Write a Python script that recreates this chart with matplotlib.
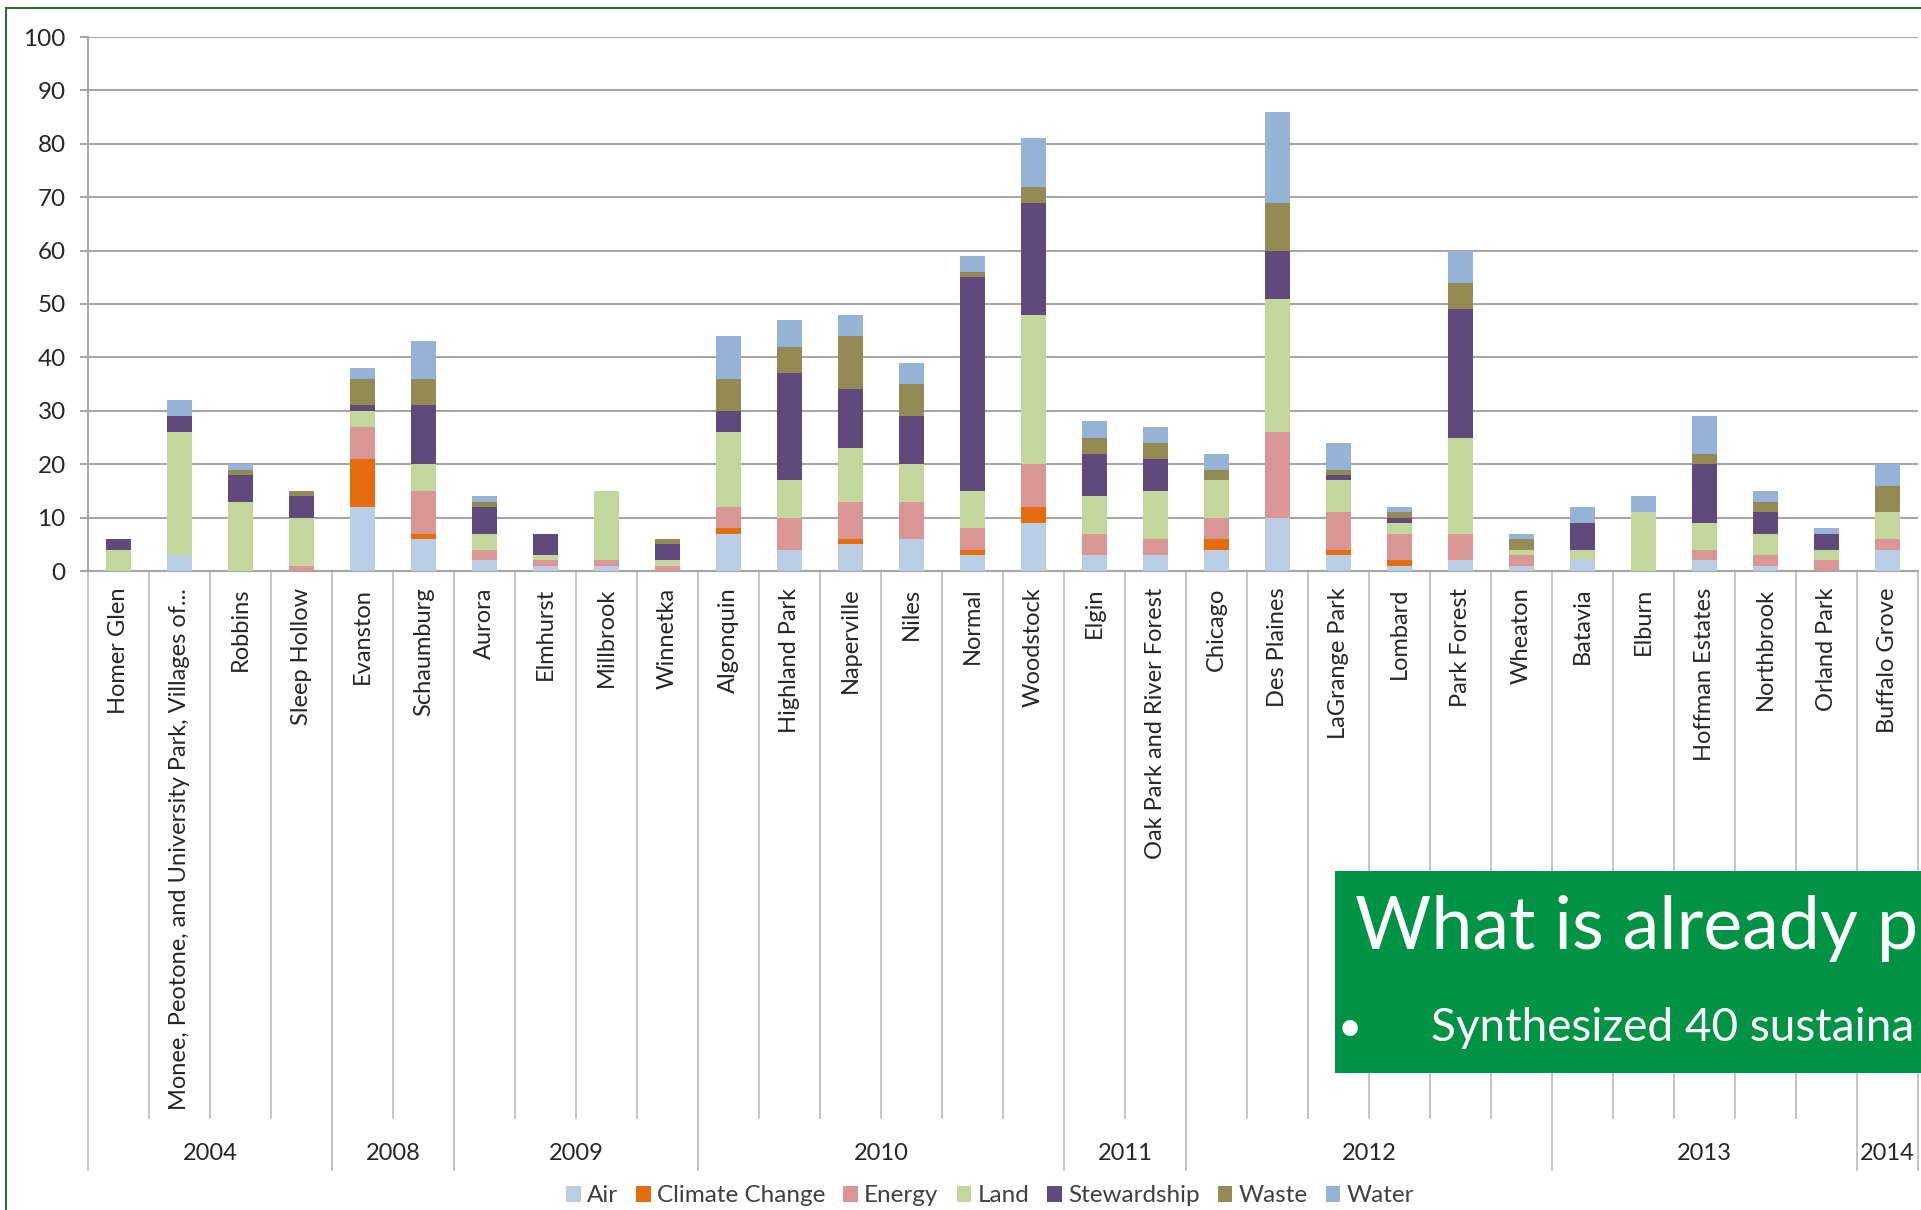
import matplotlib
matplotlib.use("Agg")
from matplotlib import pyplot as plt
from matplotlib.lines import Line2D
from matplotlib.patches import Rectangle
import matplotlib.transforms as mtransforms

plt.rcParams['font.family'] = ['Lato', 'DejaVu Sans']

cities = ['Homer Glen', 'Monee, Peotone, and University Park, Villages of...', 'Robbins',
          'Sleep Hollow', 'Evanston', 'Schaumburg', 'Aurora', 'Elmhurst', 'Millbrook',
          'Winnetka', 'Algonquin', 'Highland Park', 'Naperville', 'Niles', 'Normal',
          'Woodstock', 'Elgin', 'Oak Park and River Forest', 'Chicago', 'Des Plaines',
          'LaGrange Park', 'Lombard', 'Park Forest', 'Wheaton', 'Batavia', 'Elburn',
          'Hoffman Estates', 'Northbrook', 'Orland Park', 'Buffalo Grove']
years = ['2004', '2008', '2009', '2010', '2011', '2012', '2013', '2014']
year_counts = [4, 2, 4, 6, 2, 6, 5, 1]

air = [0, 3, 0, 0, 12, 6, 2, 1, 1, 0, 7, 4, 5, 6, 3, 9, 3, 3, 4, 10, 3, 1, 2, 1, 2, 0, 2, 1, 0, 4]
climate = [0, 0, 0, 0, 9, 1, 0, 0, 0, 0, 1, 0, 1, 0, 1, 3, 0, 0, 2, 0, 1, 1, 0, 0, 0, 0, 0, 0, 0, 0]
energy = [0, 0, 0, 1, 6, 8, 2, 1, 1, 1, 4, 6, 7, 7, 4, 8, 4, 3, 4, 16, 7, 5, 5, 2, 0, 0, 2, 2, 2, 2]
land = [4, 23, 13, 9, 3, 5, 3, 1, 13, 1, 14, 7, 10, 7, 7, 28, 7, 9, 7, 25, 6, 2, 18, 1, 2, 11, 5, 4, 2, 5]
stewardship = [2, 3, 5, 4, 1, 11, 5, 4, 0, 3, 4, 20, 11, 9, 40, 21, 8, 6, 0, 9, 1, 1, 24, 0, 5, 0, 11, 4, 3, 0]
waste = [0, 0, 1, 1, 5, 5, 1, 0, 0, 1, 6, 5, 10, 6, 1, 3, 3, 3, 2, 9, 1, 1, 5, 2, 0, 0, 2, 2, 0, 5]
water = [0, 3, 1, 0, 2, 7, 1, 0, 0, 0, 8, 5, 4, 4, 3, 9, 3, 3, 3, 17, 5, 1, 6, 1, 3, 3, 7, 2, 1, 4]

series_names = ['Air', 'Climate Change', 'Energy', 'Land', 'Stewardship', 'Waste', 'Water']
series_values = [air, climate, energy, land, stewardship, waste, water]
series_colors = ['#B9CDE5', '#E46C0A', '#D99694', '#C3D69B', '#604A7B', '#948A54', '#95B3D7']

W, H = 1921, 1210
fig = plt.figure(figsize=(W / 100, H / 100), dpi=100)
ax = fig.add_axes([88 / W, 1 - 571 / H, (1918 - 88) / W, (571 - 37) / H])

x = list(range(len(cities)))
bottom = [0] * len(cities)
for name, vals, col in zip(series_names, series_values, series_colors):
    ax.bar(x, vals, width=0.4, bottom=bottom, color=col, label=name, linewidth=0, zorder=3)
    bottom = [b + v for b, v in zip(bottom, vals)]

grid_col = '#A6A6A6'
ax.set_xlim(-0.5, len(cities) - 0.5)
ax.set_ylim(0, 100)
ax.set_yticks(range(0, 101, 10))
ax.yaxis.grid(True, color=grid_col, linewidth=1.5, zorder=0)
ax.set_axisbelow(True)
ax.tick_params(axis='y', length=6, width=1.5, color=grid_col, labelsize=17.5, pad=10,
               labelcolor='#262626')
for s in ['top', 'right']:
    ax.spines[s].set_visible(False)
ax.spines['left'].set_color(grid_col)
ax.spines['left'].set_linewidth(1.5)
ax.spines['bottom'].set_color(grid_col)
ax.spines['bottom'].set_linewidth(1.5)

ax.set_xticks(x)
ax.set_xticklabels(cities, rotation=90, va='top', ha='center', fontsize=17, color='#262626')
ax.tick_params(axis='x', length=0, pad=12)

# multi-level category axis separators
trans = mtransforms.blended_transform_factory(ax.transData, ax.transAxes)
ax_h = 571 - 37
inner_low = -(1118 - 571) / ax_h
group_low = -(1170 - 571) / ax_h
year_y = -(1154 - 571) / ax_h
group_edges = [0]
for c in year_counts:
    group_edges.append(group_edges[-1] + c)
for k in range(len(cities) + 1):
    low = group_low if k in group_edges else inner_low
    ax.plot([k - 0.5, k - 0.5], [0, low], transform=trans, color='#BFBFBF',
            linewidth=1.3, clip_on=False)
for yr, a, b in zip(years, group_edges[:-1], group_edges[1:]):
    ax.text((a + b) / 2 - 0.5, year_y, yr, transform=trans, ha='center', va='center',
            fontsize=17, color='#262626')

fig.legend(loc='center', bbox_to_anchor=(990 / W, 1 - 1196 / H), ncol=7, frameon=False,
           fontsize=17.5, handlelength=0.6, handleheight=0.6, handletextpad=0.25,
           columnspacing=0.75, labelcolor='#404040')

# slide frame
frame_col = '#2E6B30'
fig.add_artist(Line2D([6 / W, 6 / W], [0, 1 - 8 / H], color=frame_col, linewidth=1.5))
fig.add_artist(Line2D([6 / W, 1], [1 - 8 / H, 1 - 8 / H], color=frame_col, linewidth=1.5))

# green overlay box from the slide (its text runs off the slide edge, as in the original)
fig.add_artist(Rectangle((1335 / W, 1 - 1073 / H), (W - 1335) / W, (1073 - 871) / H,
                         transform=fig.transFigure, facecolor='#009245', edgecolor='none',
                         zorder=10))
fig.text(1355 / W, 1 - 949 / H, 'What is already p', color='white', fontsize=53,
         ha='left', va='baseline', zorder=11)
fig.text(1338 / W, 1 - 1041 / H, '\u2022', color='white', fontsize=30,
         ha='left', va='baseline', zorder=11)
fig.text(1431 / W, 1 - 1041 / H, 'Synthesized 40 sustaina', color='white', fontsize=33,
         ha='left', va='baseline', zorder=11)

fig.savefig('out.png', dpi=100)
